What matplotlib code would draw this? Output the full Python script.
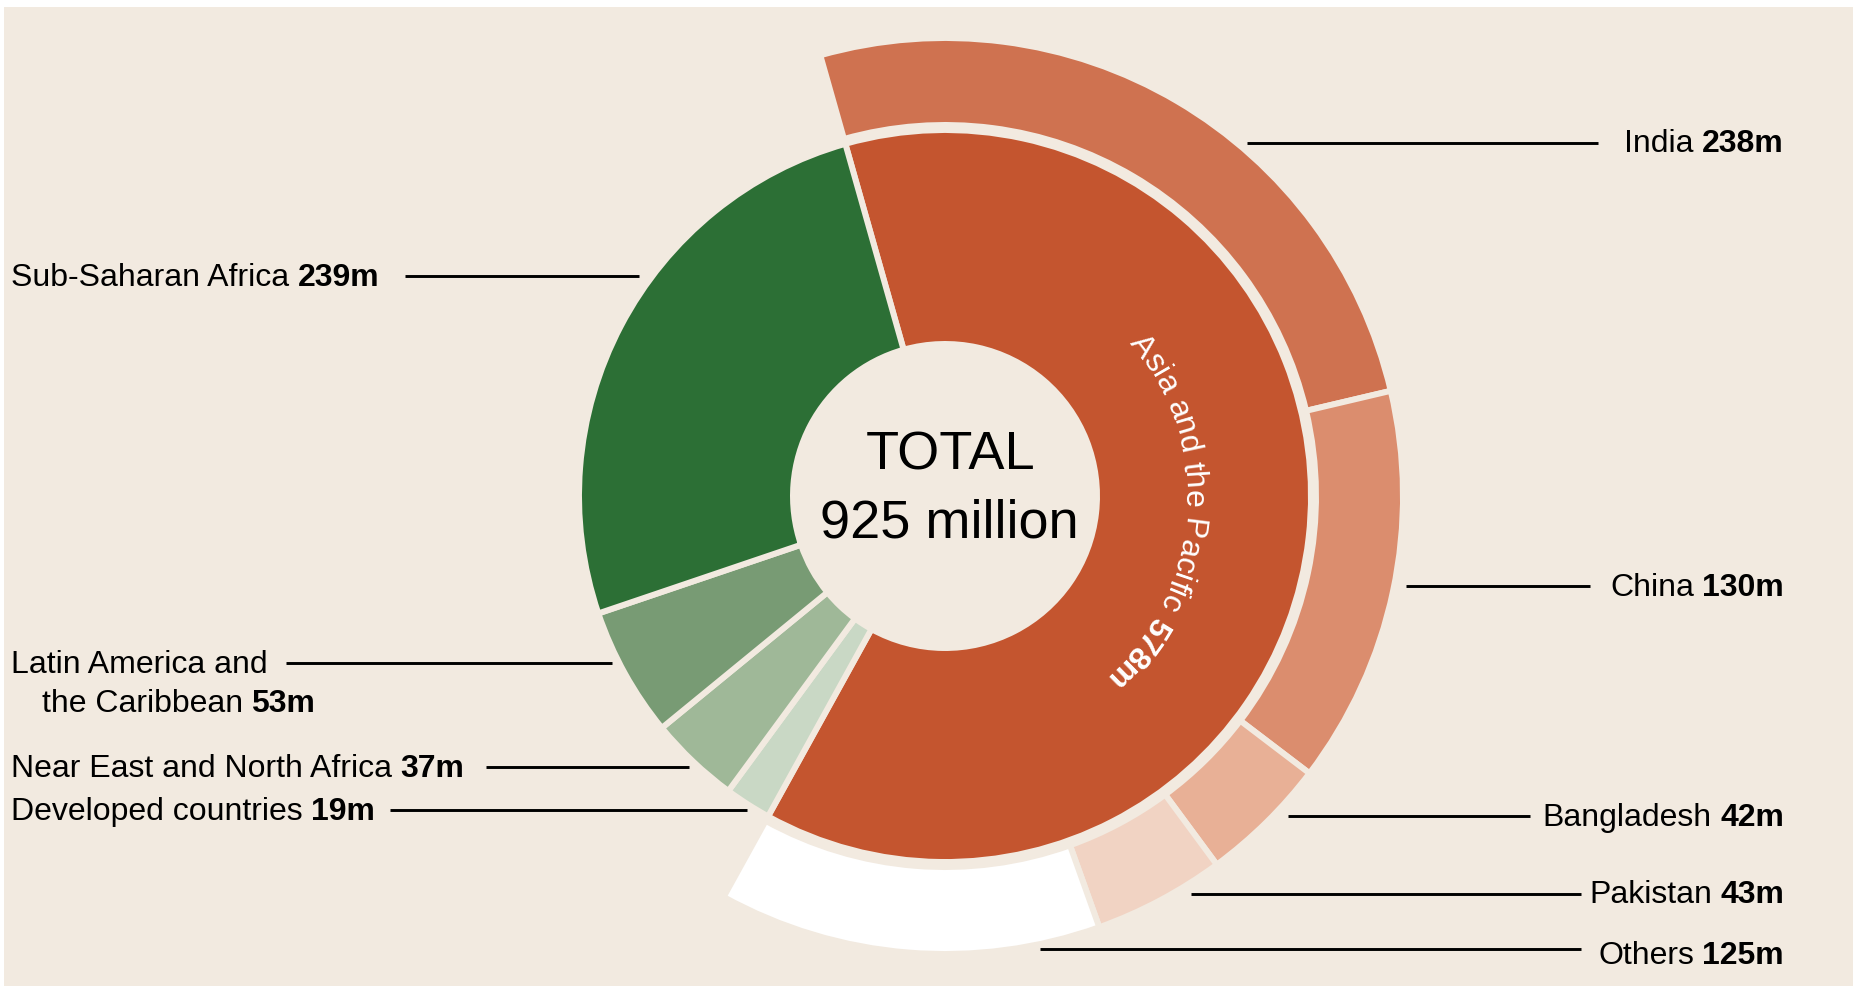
import numpy as np
import matplotlib
matplotlib.use("Agg")
import matplotlib.pyplot as plt
from matplotlib.patches import Rectangle
from matplotlib.font_manager import FontProperties, findfont
from matplotlib.ft2font import FT2Font

# undernourished people by region (millions), clockwise from Asia
regions = ["Asia and the Pacific", "Developed countries", "Near East and North Africa",
           "Latin America and the Caribbean", "Sub-Saharan Africa"]
region_values = [578, 19, 37, 53, 239]
region_colors = ["#C4552F", "#C9D8C5", "#9FB898", "#789B74", "#2C6F35"]

# breakdown of the Asia and the Pacific slice
countries = ["India", "China", "Bangladesh", "Pakistan", "Others"]
country_values = [238, 130, 42, 43, 125]
country_colors = ["#CF7250", "#DB8D6E", "#E8B096", "#F1D3C3", "#FFFFFF"]

total = 925

W, H = 1853, 987
BG = "#F2EAE0"
FONT = "Liberation Sans"
FS = 23
plt.rcParams["font.family"] = [FONT, "DejaVu Sans"]

fig = plt.figure(figsize=(W / 100, H / 100), dpi=100, facecolor="white")
ax = fig.add_axes([0, 0, 1, 1])

cx, cy = 945, H - 497
start = 105.8
edge = dict(edgecolor=BG, linewidth=4.3)

ax.pie(region_values, radius=366, center=(cx, cy), startangle=start,
       counterclock=False, colors=region_colors,
       wedgeprops=dict(width=366 - 152, **edge))

rest = sum(region_values) - sum(country_values)
outer, _ = ax.pie(country_values + [rest], radius=458, center=(cx, cy),
                  startangle=start, counterclock=False,
                  colors=country_colors + ["none"],
                  wedgeprops=dict(width=458 - 371, **edge))
outer[-1].set_visible(False)

ax.set_xlim(0, W)
ax.set_ylim(0, H)
ax.set_aspect("equal")
ax.add_patch(Rectangle((4, 0), W - 4, H - 8, facecolor=BG, edgecolor="none", zorder=-10))

# centre total
ax.text(951, H - 470, "TOTAL", ha="center", va="baseline", fontsize=39)
ax.text(949, H - 538, f"{total} million", ha="center", va="baseline", fontsize=39)


def advance(ch, prop):
    font = FT2Font(findfont(prop))
    font.set_size(prop.get_size_in_points(), fig.dpi)
    return font.load_char(ord(ch)).linearHoriAdvance / 65536


def arc_text(parts, r, mid_deg, color="white"):
    glyphs = []
    for s, weight in parts:
        prop = FontProperties(family=FONT, size=FS, weight=weight)
        for ch in s:
            glyphs.append((ch, weight, advance(ch, prop)))
    total_w = sum(g[2] for g in glyphs)
    theta0 = np.radians(mid_deg) + total_w / 2 / r
    pos = 0
    for ch, weight, w in glyphs:
        th = theta0 - (pos + w / 2) / r
        pos += w
        if ch == " ":
            continue
        ax.text(cx + r * np.cos(th), cy + r * np.sin(th), ch,
                rotation=np.degrees(th) - 90, rotation_mode="anchor",
                ha="center", va="baseline", fontsize=FS, fontweight=weight,
                color=color)


arc_text([(regions[0] + " ", "normal"), (f"{region_values[0]}m", "bold")], 240, -4.5)


def leader(x0, x1, y):
    ax.plot([x0, x1], [H - y, H - y], color="black", lw=2.1, solid_capstyle="butt")


def label_left(x, y, name, value):
    t = ax.text(x, H - y, name, ha="left", va="baseline", fontsize=FS)
    ax.annotate(f"{value}m", xy=(1, 0), xycoords=t, xytext=(6, 0),
                textcoords="offset points", ha="left", va="bottom",
                fontsize=FS, fontweight="bold")


def label_right(x, y, name, value):
    t = ax.text(x, H - y, f"{value}m", ha="right", va="baseline",
                fontsize=FS, fontweight="bold")
    ax.annotate(name, xy=(0, 0), xycoords=t, xytext=(-6, 0),
                textcoords="offset points", ha="right", va="bottom", fontsize=FS)


# left side: regions
label_left(11, 286, regions[4], region_values[4])
leader(405, 639, 277)
ax.text(11, H - 673, "Latin America and", ha="left", va="baseline", fontsize=FS)
label_left(42, 712, "the Caribbean", region_values[3])
leader(286, 612, 664)
label_left(11, 777, regions[2], region_values[2])
leader(486, 689, 768)
label_left(11, 820, regions[1], region_values[1])
leader(390, 747, 811)

# right side: countries
right_x = 1784
label_right(right_x, 152, countries[0], country_values[0])
leader(1247, 1598, 144)
label_right(right_x, 596, countries[1], country_values[1])
leader(1406, 1590, 587)
label_right(right_x, 826, countries[2], country_values[2])
leader(1288, 1530, 817)
label_right(right_x, 903, countries[3], country_values[3])
leader(1191, 1581, 895)
label_right(right_x, 964, countries[4], country_values[4])
leader(1040, 1581, 950)

fig.savefig("out.png", dpi=100, facecolor=fig.get_facecolor())
